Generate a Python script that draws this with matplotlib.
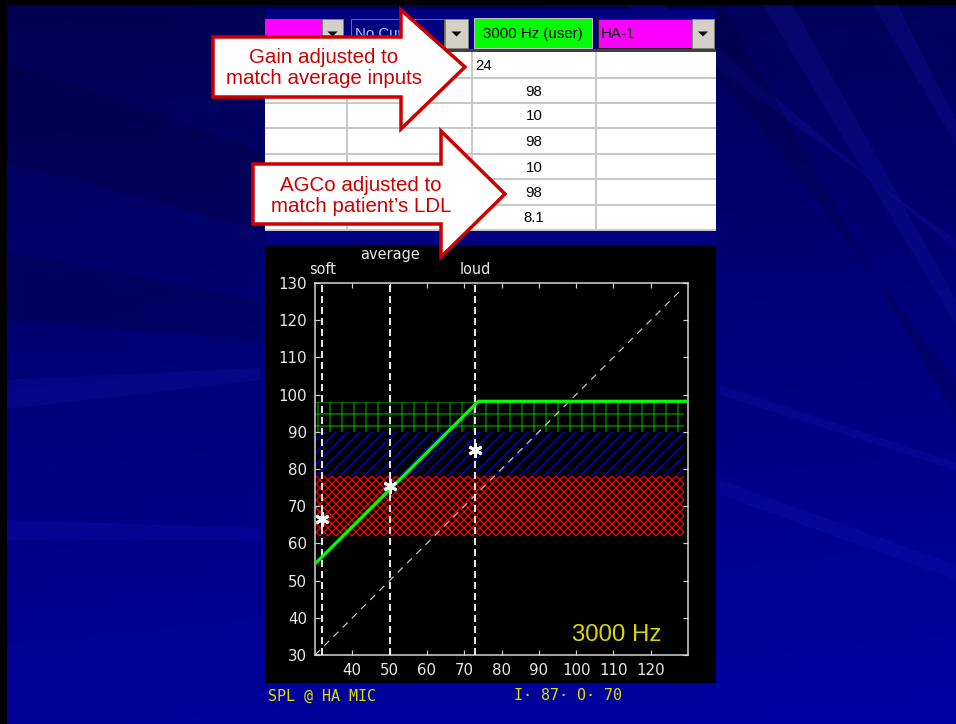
import numpy as np
import matplotlib
matplotlib.use("Agg")
import matplotlib.pyplot as plt
from matplotlib.patches import Rectangle, Polygon
import matplotlib.transforms as mtransforms

plt.rcParams['lines.scale_dashes'] = False
plt.rcParams['hatch.linewidth'] = 1.3

# ---------------- data ----------------
band_lower = [62, 78, 90]          # red, blue, green target zones (dB SPL out)
band_upper = [78, 90, 98]
band_x = [30, 129]

curve_in = [30, 73.8, 130]         # I/O curve (green)
curve_out = [54.5, 98.2, 98.2]

diag_in = [30, 128]                # unity line
diag_out = [30, 128]

level_names = ['soft', 'average', 'loud']
level_in = [32, 50, 73]
target_out = [66.5, 75.3, 85]

x_ticks = [40, 50, 60, 70, 80, 90, 100, 110, 120]
y_ticks = [30, 40, 50, 60, 70, 80, 90, 100, 110, 120, 130]

freq_label = '3000 Hz'
header_labels = ['', 'No Curve', '3000 Hz (user)', 'HA-1']
table_values = ['24', '98', '10', '98', '10', '98', '8.1']
callouts = ['Gain adjusted to\nmatch average inputs',
            'AGCo adjusted to\nmatch patient\u2019s LDL']
status_left = 'SPL @ HA MIC'
status_right = 'I\u00b7 87\u00b7 O\u00b7 70'

# ---------------- figure ----------------
W, H = 956, 724
DPI = 72
fig = plt.figure(figsize=(W / DPI, H / DPI), dpi=DPI)

bg = fig.add_axes([0, 0, 1, 1])
bg.set_xlim(0, W)
bg.set_ylim(H, 0)
bg.axis('off')

# slide background gradient
yy, xx = np.mgrid[0:H:4, 0:W:4]
b = 0.32 + 0.28 * (yy / H) + 0.04 * (xx / W)
img = np.dstack([np.zeros_like(b), np.zeros_like(b), np.clip(b, 0, 1)])
bg.imshow(img, extent=(0, W, H, 0), aspect='auto', zorder=0, interpolation='bilinear')

# light rays
rays = [((760, 0), (790, 0), (956, 300), (956, 325)),
        ((620, 0), (660, 0), (956, 250), (956, 240)),
        ((720, 480), (720, 495), (956, 580), (956, 565)),
        ((720, 385), (720, 395), (956, 470), (956, 463)),
        ((0, 380), (0, 410), (260, 380), (260, 368)),
        ((0, 520), (0, 540), (260, 540), (260, 528)),
        ((870, 0), (895, 0), (956, 120), (956, 145))]
for r in rays:
    bg.add_patch(Polygon(r, closed=True, facecolor='#3a3aff', edgecolor='none', alpha=0.10, zorder=1))
darks = [((0, 60), (0, 160), (260, 230), (260, 150)),
         ((0, 250), (0, 320), (260, 340), (260, 300)),
         ((660, 0), (720, 0), (956, 420), (956, 380))]
for r in darks:
    bg.add_patch(Polygon(r, closed=True, facecolor='#000030', edgecolor='none', alpha=0.22, zorder=1))

# black slide frame (left/top)
bg.add_patch(Rectangle((0, 0), 7, H, facecolor='black', zorder=2))
bg.add_patch(Rectangle((0, 0), W, 5, facecolor='black', zorder=2))

# ---------------- table ----------------
bg.add_patch(Rectangle((265, 10), 451, 236, facecolor='#000080', edgecolor='none', zorder=3))
bg.add_patch(Rectangle((265, 52), 451, 178, facecolor='white', edgecolor='none', zorder=3))
bg.add_patch(Rectangle((265, 49), 451, 3, facecolor='#404040', edgecolor='none', zorder=3))
row_edges = [52, 78, 103, 128, 154, 179, 205, 230]
col_edges = [347, 472, 596]
for yv in row_edges[1:]:
    bg.plot([265, 716], [yv, yv], color='#c8c8c8', lw=2, zorder=4, solid_capstyle='butt')
for xv in col_edges:
    bg.plot([xv, xv], [52, 230], color='#c8c8c8', lw=2, zorder=4, solid_capstyle='butt')

def dropdown(x0, y0, w, h):
    bg.add_patch(Rectangle((x0, y0), w, h, facecolor='#d4d0c8', edgecolor='#808080', lw=1, zorder=4))
    cx, cy = x0 + w / 2, y0 + h / 2
    bg.add_patch(Polygon([(cx - 5, cy - 2), (cx + 5, cy - 2), (cx, cy + 3)], closed=True,
                         facecolor='black', edgecolor='none', zorder=5))

# header cells
bg.add_patch(Rectangle((265, 19), 57, 29, facecolor='#ff00ff', edgecolor='none', zorder=4))
dropdown(322, 19, 21, 29)
bg.add_patch(Rectangle((351, 19), 93, 29, facecolor='#000080', edgecolor='#e0e000', lw=1,
                       linestyle=(0, (1, 1)), zorder=4))
bg.text(355, 34, header_labels[1], color='#a8c8ff', fontsize=15, family='Liberation Sans',
        va='center', ha='left', zorder=5)
dropdown(445, 19, 23, 29)
bg.add_patch(Rectangle((474, 18), 118, 30, facecolor='#00ff00', edgecolor='#c0c0c0', lw=1, zorder=4))
bg.text(533, 34, header_labels[2], color='black', fontsize=15, family='Liberation Sans',
        va='center', ha='center', zorder=5)
bg.add_patch(Rectangle((598, 19), 94, 29, facecolor='#ff00ff', edgecolor='#202020', lw=1, zorder=4))
bg.text(601, 34, header_labels[3], color='black', fontsize=15, family='Liberation Sans',
        va='center', ha='left', zorder=5)
dropdown(692, 19, 22, 29)

for i, v in enumerate(table_values):
    yc = (row_edges[i] + row_edges[i + 1]) / 2 + 1
    if i == 0:
        bg.text(475, yc, v, color='black', fontsize=15, family='Liberation Sans',
                va='center', ha='left', zorder=5)
    else:
        bg.text(534, yc, v, color='black', fontsize=15, family='Liberation Sans',
                va='center', ha='center', zorder=5)

# ---------------- black panel and status bar ----------------
bg.add_patch(Rectangle((265, 245), 451, 438, facecolor='black', edgecolor='none', zorder=3))
bg.add_patch(Rectangle((265, 683), 451, 21, facecolor='#00009a', edgecolor='none', zorder=3))
bg.text(268, 696, status_left, color='#e0e000', fontsize=15, family='DejaVu Sans Mono',
        va='center', ha='left', zorder=5)
bg.text(514, 696, status_right, color='#e0e000', fontsize=15, family='DejaVu Sans Mono',
        va='center', ha='left', zorder=5)

# ---------------- callout arrows ----------------
def block_arrow(x0, yt, yb, xb, ht, hb, xt, yt_tip):
    pts = [(x0, yt), (xb, yt), (xb, ht), (xt, yt_tip), (xb, hb), (xb, yb), (x0, yb)]
    bg.add_patch(Polygon(pts, closed=True, facecolor='white', edgecolor='#cc0000', lw=3.5,
                         joinstyle='miter', zorder=8))

block_arrow(213, 37, 97, 401, 10, 129, 465, 67)
block_arrow(253, 164, 224, 441, 131, 257, 505, 194)
bg.text(324, 68, callouts[0], color='#cc0000', fontsize=20.5, family='Liberation Sans',
        ha='center', va='center', linespacing=1.15, zorder=9)
bg.text(361, 196, callouts[1], color='#cc0000', fontsize=20.5, family='Liberation Sans',
        ha='center', va='center', linespacing=1.15, zorder=9)

# ---------------- chart ----------------
L, R, T, B = 315, 688, 283, 655
ax = fig.add_axes([L / W, (H - B) / H, (R - L) / W, (B - T) / H])
ax.set_facecolor('black')
ax.set_xlim(30, 130)
ax.set_ylim(30, 130)

band_colors = ['#ff0000', '#0000ff', '#009000']
band_hatches = ['xxx', '//', '+']
for lo, hi, c, h in zip(band_lower, band_upper, band_colors, band_hatches):
    ax.fill_between(band_x, [lo, lo], [hi, hi], facecolor='none', edgecolor=c,
                    hatch=h, linewidth=0, zorder=1)

ax.plot(diag_in, diag_out, color='#c8c8c8', lw=1.2, dashes=(7, 6), zorder=2)
for xv in level_in:
    ax.axvline(xv, color='white', lw=1.8, dashes=(7, 4), zorder=3)
ax.plot(curve_in, curve_out, color='#00ff00', lw=3.2, zorder=4, solid_joinstyle='round')
ax.plot(level_in, target_out, linestyle='none', marker=(6, 2, 0), markersize=14,
        markeredgewidth=3, color='white', zorder=5)

tr = mtransforms.blended_transform_factory(ax.transData, fig.transFigure)
label_y = [H - 270, H - 255, H - 270]
for name, xv, ly in zip(level_names, level_in, label_y):
    ax.text(xv, ly / H, name, transform=tr, color='#e8e8e8', fontsize=14.5,
            family='DejaVu Sans', ha='center', va='center', clip_on=False)

ax.text(0.93, 0.038, freq_label, transform=ax.transAxes, color='#d8d800', fontsize=24,
        family='Liberation Sans', ha='right', va='baseline')

ax.set_xticks(x_ticks)
ax.set_yticks(y_ticks)
ax.tick_params(direction='in', length=5, width=1.2, color='#d0d0d0', labelcolor='#e8e8e8',
               top=True, right=True, labelsize=15, pad=8)
for lab in ax.get_xticklabels() + ax.get_yticklabels():
    lab.set_family('DejaVu Sans')
for s in ax.spines.values():
    s.set_color('#d8d8d8')
    s.set_linewidth(1.5)

fig.savefig('out.png', dpi=DPI, facecolor='black')
